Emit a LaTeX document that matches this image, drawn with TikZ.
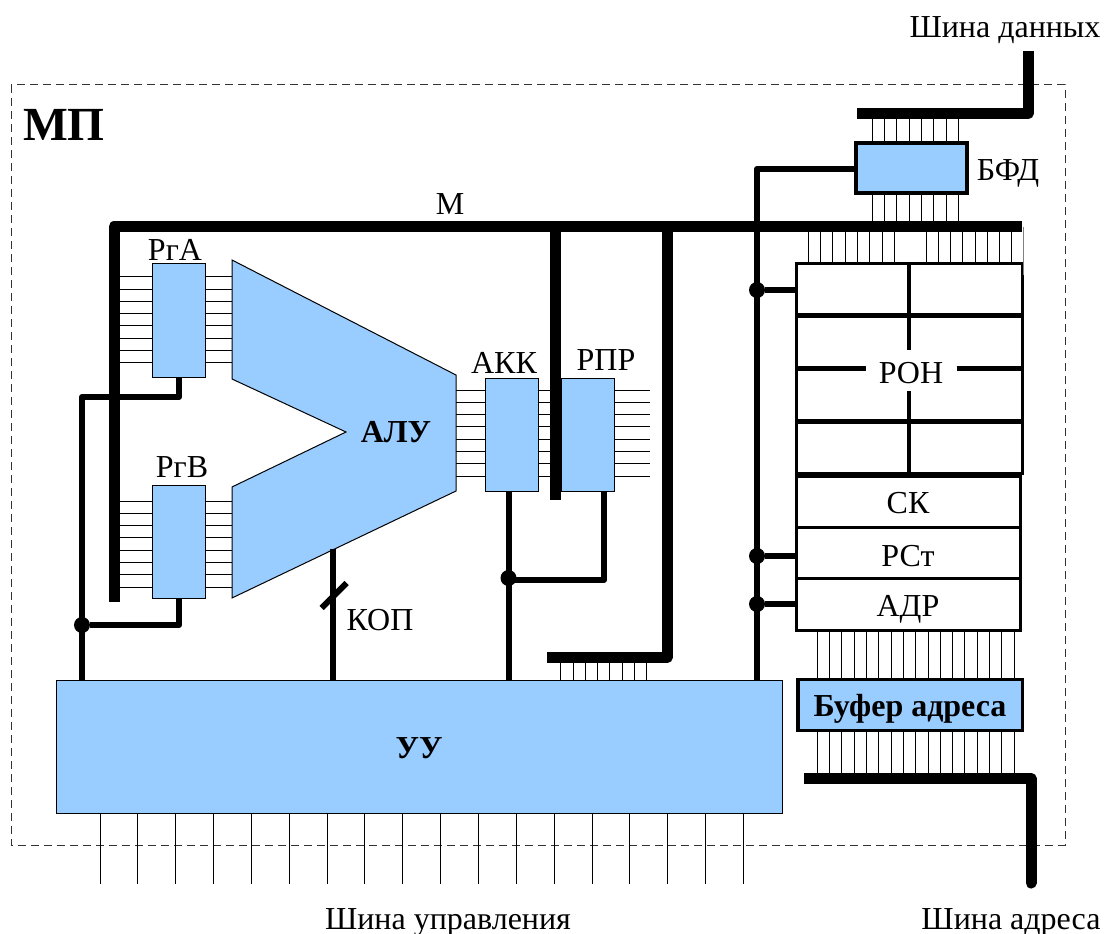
\documentclass[tikz,border=0pt]{standalone}
\usepackage{fontspec}
\setmainfont{Liberation Serif}
\definecolor{regblue}{HTML}{99CCFF}
\tikzset{
  wire/.style={line width=1pt},
  bus/.style={line width=11pt, line join=round},
  ctrl/.style={line width=6pt, line join=round},
  cell/.style={draw, line width=3pt, inner sep=0pt, outer sep=0pt},
  reg/.style={draw, line width=1pt, fill=regblue, inner sep=0pt, outer sep=0pt},
  buf/.style={reg, line width=3.5pt},
  dot/.style={circle, fill=black, inner sep=0pt, outer sep=0pt, minimum size=16pt},
  lbl/.style={inner sep=0pt, font=\fontsize{32}{36}\selectfont},
  blbl/.style={lbl, font=\fontsize{32}{36}\selectfont\bfseries}
}
\begin{document}
\begin{tikzpicture}[x=1pt, y=-1pt]
    \useasboundingbox (0,0) rectangle (1104,934);

    % MP frame
    \draw[line width=1pt, dash pattern=on 8pt off 5pt, black!80] (11,85) rectangle (1065,845);
    \node[lbl, font=\fontsize{47.5}{52}\selectfont\bfseries] (mp) at (64,125) {МП};

    % Ends of the buses
    \coordinate (dbusl) at (857,113.5);
    \coordinate (dbust) at (1028,51);
    \coordinate (mbusr) at (1022,226.5);
    \coordinate (mbusl) at (114,226.5);
    \coordinate (mbusb) at (114,602);
    \coordinate (akkt) at (555.5,226.5);
    \coordinate (akkb) at (555.5,500);
    \coordinate (rprt) at (667,226.5);
    \coordinate (rprl) at (547,657.5);
    \coordinate (abusl) at (804,778.5);
    \coordinate (abusc) at (1031,778.5);
    \coordinate (abusb) at (1031,883);

    % Registers
    \node[reg, minimum width=53pt, minimum height=114pt] (rga) at (179,320) {};
    \node[reg, minimum width=53pt, minimum height=113pt] (rgb) at (179,541.5) {};
    \node[reg, minimum width=53pt, minimum height=113pt] (akk) at (512,434.5) {};
    \node[reg, minimum width=53pt, minimum height=113pt] (rpr) at (587.5,434.5) {};
    \node[buf, minimum width=111pt, minimum height=50pt] (bfd) at (911.5,168) {};
    \node[reg, minimum width=726pt, minimum height=133pt] (uu) at (419,746.5) {};
    \node[blbl] (uulbl) at (419,748) {УУ};

    % ALU
    \coordinate (alutl) at (232,260);
    \coordinate (alubl) at (232,598);
    \draw[line width=1pt, fill=regblue] (alutl) -- (456,375) -- (456,491) -- (alubl) -- (232,487)
        -- (346,432) -- (232,379) -- cycle;
    \node[blbl] (alu) at (396,432) {АЛУ};

    % Lines of the registers
    \foreach \y in {276.7,289,...,363}
      \draw[wire] (mbusl |- 0,\y) -- (rga.west |- 0,\y) (rga.east |- 0,\y) -- (alutl |- 0,\y);
    \foreach \y in {501,513.3,...,588}
      \draw[wire] (mbusl |- 0,\y) -- (rgb.west |- 0,\y) (rgb.east |- 0,\y) -- (alutl |- 0,\y);
    \coordinate (alur) at (456,432);
    \coordinate (rprout) at (650,432);
    \foreach \y in {390,402.3,...,477}
      \draw[wire] (alur |- 0,\y) -- (akk.west |- 0,\y) (akk.east |- 0,\y) -- (rpr.west |- 0,\y)
        (rpr.east |- 0,\y) -- (rprout |- 0,\y);

    % Lines of the buses
    \foreach \x in {872.3,884.6,...,959}
      \draw[wire] (\x,0 |- dbusl) -- (\x,0 |- bfd.north) (\x,0 |- bfd.south) -- (\x,0 |- mbusr);
    \foreach \x in {560.7,573,...,647}
      \draw[wire] (\x,0 |- rprl) -- (\x,0 |- uu.north);

    % RON
    \node[cell, minimum width=226pt, minimum height=210pt] (ron) at (909,368.5) {};
    \foreach \x in {808.3,820.6,...,895}
      \draw[wire] (\x,0 |- mbusr) -- (\x,0 |- ron.north);
    \foreach \x in {926,938.25,...,1012}
      \draw[wire] (\x,0 |- mbusr) -- (\x,0 |- ron.north);
    \coordinate (ronex) at (1023.7,275);
    \draw[line width=1.5pt, black!50] (ronex |- mbusr) -- (ronex);
    \node[lbl] (ronlbl) at (911,373) {РОН};
    \coordinate (ronr1) at (ron.west |- 0,315.5);
    \coordinate (ronr2) at (ron.west |- 0,421.5);
    \draw[line width=4.5pt] (ronr1) -- (ronr1 -| ron.east) (ronr2) -- (ronr2 -| ron.east);
    \draw[line width=4.5pt] (ron.west) -- (866,0 |- ron.west) (956.5,0 |- ron.east) -- (ron.east);
    \draw[line width=4.5pt] (ron.north) -- (909,350) (909,391) -- (ron.south);

    % SK, RSt, ADR
    \node[cell, minimum width=224pt, minimum height=51pt] (sk) at (908,501.5) {};
    \node[cell, minimum width=224pt, minimum height=51pt] (rst) at (908,552.5) {};
    \node[cell, minimum width=224pt, minimum height=52pt] (adr) at (908,604) {};
    \node[lbl] (sklbl) at (908,503) {СК};
    \node[lbl] (rstlbl) at (908,556) {РСт};
    \node[lbl] (adrlbl) at (908,609) {АДР};

    % Address buffer
    \node[buf, minimum width=224.5pt, minimum height=51pt] (bufa) at (910,705) {};
    \node[lbl, font=\fontsize{32}{36}\selectfont\bfseries] (bufalbl) at (910,709) {Буфер адреса};
    \foreach \x in {817.3,829.6,...,1014.5}
      \draw[wire] (\x,0 |- adr.south) -- (\x,0 |- bufa.north) (\x,0 |- bufa.south) -- (\x,0 |- abusl);

    % Buses
    \draw[bus] (dbusl) -- (dbust |- dbusl) -- (dbust);
    \draw[bus] (mbusr) -- (mbusl) -- (mbusb);
    \draw[bus] (akkt) -- (akkb);
    \draw[bus] (rprt) -- (rprt |- rprl) -- (rprl);
    \draw[bus] (abusl) -- (abusc) -- (abusb);
    \draw[bus, line cap=round] (abusc |- 0,870) -- (abusb);
    \node[lbl] (mlbl) at (450,204) {М};

    % Control lines
    \node[dot] (dra) at (82,625) {};
    \node[dot] (dakk) at (508.5,578) {};
    \node[dot] (dron) at (757,290) {};
    \node[dot] (drst) at (757,556) {};
    \node[dot] (dadr) at (757,604) {};
    \draw[ctrl] (rga.south) |- (dra |- 0,397) -- (dra |- uu.north);
    \draw[ctrl] (rgb.south) |- (dra);
    \draw[ctrl] (dakk |- akk.south) -- (dakk |- uu.north);
    \draw[ctrl] (604,0 |- rpr.south) |- (dakk |- 0,580);
    \draw[ctrl] (bfd.west |- 0,169) -| (dron |- uu.north);
    \draw[ctrl] (dron) -- (ron.west |- dron);
    \draw[ctrl] (drst) -- (rst.west |- drst);
    \draw[ctrl] (dadr) -- (adr.west |- dadr);

    % KOP
    \coordinate (kopt) at (333.3,549);
    \coordinate (slasha) at (321.7,608);
    \coordinate (slashb) at (346.7,583);
    \draw[ctrl] (kopt) -- (kopt |- uu.north);
    \draw[ctrl] (slasha) -- (slashb);
    \node[lbl] (kop) at (380,620) {КОП};

    % Labels
    \node[lbl] (rgalbl) at (175,250) {РгА};
    \node[lbl] (rgblbl) at (182,467) {РгВ};
    \node[lbl] (akklbl) at (504,363) {АКК};
    \node[lbl] (rprlbl) at (606,360) {РПР};
    \node[lbl] (bfdlbl) at (1008,173) {БФД};
    \node[lbl] (dbuslbl) at (1005,30) {Шина данных};
    \node[lbl] (cbuslbl) at (448,922) {Шина управления};
    \node[lbl] (abuslbl) at (1011,922) {Шина адреса};

    % Lines of the control bus
    \coordinate (cbusb) at (0,884);
    \foreach \x in {100,137.85,...,745}
      \draw[wire] (\x,0 |- uu.south) -- (\x,0 |- cbusb);
\end{tikzpicture}
\end{document}
